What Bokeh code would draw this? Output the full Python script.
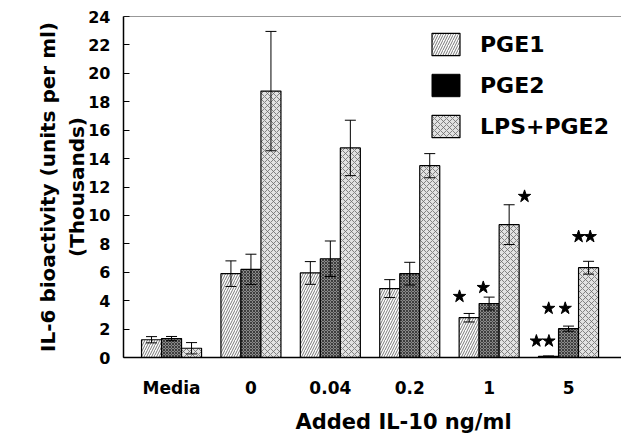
from bokeh.plotting import figure
from bokeh.models import (Range1d, FixedTicker, Whisker, TeeHead, ColumnDataSource,
                          Legend, LegendItem, Span, Title)
from bokeh.embed import file_html
from bokeh.resources import INLINE

# ---- data (IL-6 bioactivity, thousands of units per ml) ----
groups = ["Media", "0", "0.04", "0.2", "1", "5"]
pge1 = [1.25, 5.9, 5.95, 4.85, 2.8, 0.08]
pge1_err = [0.22, 0.9, 0.8, 0.63, 0.3, 0.03]
pge2 = [1.33, 6.2, 6.95, 5.9, 3.8, 2.03]
pge2_err = [0.15, 1.07, 1.25, 0.8, 0.45, 0.18]
lps = [0.65, 18.75, 14.75, 13.5, 9.35, 6.32]
lps_err = [0.4, 4.2, 1.95, 0.85, 1.4, 0.45]
y_ticks = list(range(0, 25, 2))

# significance stars: group index, offset within group, height (thousands)
sig_group = [4, 4, 4, 5, 5, 5, 5, 5, 5]
sig_dx = [-0.373, -0.074, 0.446, -0.405, -0.247, -0.25, -0.042, 0.127, 0.273]
sig_y = [4.3, 4.93, 11.34, 1.16, 1.16, 3.46, 3.46, 8.51, 8.51]

BW = 0.252
FONT = "DejaVu Sans"

p = figure(width=621, height=440, output_backend="svg", toolbar_location=None,
           x_range=Range1d(-0.605, 5.667), y_range=Range1d(0, 24),
           min_border_left=123, min_border_right=0, min_border_top=16,
           min_border_bottom=82)
p.outline_line_color = None
p.grid.visible = False
p.background_fill_color = "white"

xs = list(range(len(groups)))
series = [
    (pge1, pge1_err, -BW, dict(fill_color="white", hatch_pattern="/", hatch_color="#555555",
                               hatch_scale=5, hatch_weight=0.8)),
    (pge2, pge2_err, 0.0, dict(fill_color="#8a8a8a", hatch_pattern="x", hatch_color="#2a2a2a",
                               hatch_scale=3, hatch_weight=0.8)),
    (lps, lps_err, BW, dict(fill_color="#e2e2e2", hatch_pattern="x", hatch_color="#6a6a6a",
                            hatch_scale=6, hatch_weight=0.8)),
]
renderers = []
for vals, errs, off, style in series:
    src = ColumnDataSource(dict(
        x=[x + off for x in xs], top=vals,
        upper=[v + e for v, e in zip(vals, errs)],
        lower=[v - e for v, e in zip(vals, errs)]))
    r = p.vbar(x="x", top="top", width=BW, bottom=0, source=src,
               line_color="black", line_width=1.2, **style)
    renderers.append(r)
    w = Whisker(source=src, base="x", upper="upper", lower="lower",
                line_color="black", line_width=1,
                upper_head=TeeHead(size=11, line_width=1, line_color="black"),
                lower_head=TeeHead(size=11, line_width=1, line_color="black"))
    w.level = "overlay"
    p.add_layout(w)

# legend-only swatch for PGE2 (solid black), kept outside the visible range
r_leg2 = p.vbar(x=[-10], top=[1], width=BW, fill_color="black", line_color="black")

# significance stars
p.scatter(x=[g + d for g, d in zip(sig_group, sig_dx)], y=sig_y, marker="star",
          size=13, fill_color="black", line_color="black")

# top border line
p.add_layout(Span(location=24, dimension="width", line_color="#333333", line_width=1.2))

# axes
p.yaxis.ticker = FixedTicker(ticks=y_ticks)
p.yaxis.minor_tick_line_color = None
p.yaxis.major_tick_in = 6
p.yaxis.major_tick_out = 0
p.yaxis.major_label_standoff = 13
p.yaxis.major_label_text_font = FONT
p.yaxis.major_label_text_font_style = "bold"
p.yaxis.major_label_text_font_size = "16px"
p.yaxis.major_label_text_color = "black"
p.yaxis.axis_line_width = 1.5
p.yaxis.axis_line_color = "black"
p.yaxis.axis_label = "IL-6 bioactivity (units per ml)\n(Thousands)"
p.yaxis.axis_label_text_font = FONT
p.yaxis.axis_label_text_font_style = "bold"
p.yaxis.axis_label_text_font_size = "20px"
p.yaxis.axis_label_text_color = "black"
p.yaxis.axis_label_standoff = -4

p.xaxis.ticker = FixedTicker(ticks=xs)
p.xaxis.major_label_overrides = {i: g for i, g in enumerate(groups)}
p.xaxis.minor_tick_line_color = None
p.xaxis.major_tick_in = 0
p.xaxis.major_tick_out = 0
p.xaxis.major_label_standoff = 20
p.xaxis.major_label_text_font = FONT
p.xaxis.major_label_text_font_style = "bold"
p.xaxis.major_label_text_font_size = "17px"
p.xaxis.major_label_text_color = "black"
p.xaxis.axis_line_width = 1.5
p.xaxis.axis_line_color = "black"

p.add_layout(Title(text="Added IL-10 ng/ml", text_font=FONT, text_font_style="bold",
                   text_font_size="21px", text_color="black", align="left",
                   offset=172, standoff=14, vertical_align="bottom",
                   text_baseline="alphabetic"), "below")

legend = Legend(items=[LegendItem(label="PGE1", renderers=[renderers[0]]),
                       LegendItem(label="PGE2", renderers=[r_leg2]),
                       LegendItem(label="LPS+PGE2", renderers=[renderers[2]])],
                location=(305, 217), glyph_width=35, glyph_height=28, spacing=13,
                padding=0, margin=0, label_standoff=17, label_height=28,
                label_text_font=FONT, label_text_font_style="bold",
                label_text_font_size="22px", label_text_color="black",
                border_line_color=None, background_fill_alpha=0)
p.add_layout(legend)

open("out.html", "w").write(file_html(p, INLINE))
